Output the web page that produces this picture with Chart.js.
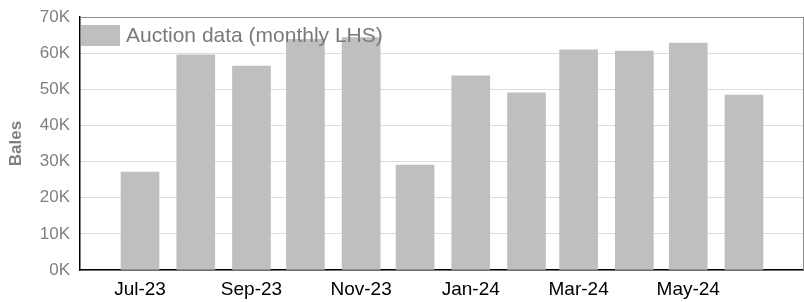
<!DOCTYPE html>
<html><head><meta charset="utf-8">
<script src="https://cdn.jsdelivr.net/npm/chart.js@4.4.1/dist/chart.umd.min.js"></script>
<style>html,body{margin:0;padding:0;background:#fff}#wrap{width:804px;height:302px}</style>
</head><body><div id="wrap"><canvas id="c"></canvas></div>
<script>
const months = ['2023-07','2023-08','2023-09','2023-10','2023-11','2023-12','2024-01','2024-02','2024-03','2024-04','2024-05','2024-06'];
const bales = [27100, 59500, 56400, 63800, 64300, 29000, 53700, 49000, 60900, 60600, 62800, 48400];
const tickMonths = ['2023-07','2023-09','2023-11','2024-01','2024-03','2024-05'];
const tickLabels = ['Jul-23','Sep-23','Nov-23','Jan-24','Mar-24','May-24'];
const seriesLabel = 'Auction data (monthly LHS)';
const yTitle = 'Bales';

function dayOf(m){const [y,mo]=m.split('-').map(Number);return (Date.UTC(y,mo-1,1)-Date.UTC(2023,6,1))/86400000;}
const points = months.map((m,i)=>({x:dayOf(m), y:bales[i]}));

const frame = {
  id:'frame',
  beforeDatasetsDraw(chart){
    const {ctx, chartArea:a} = chart;
    ctx.save(); ctx.strokeStyle='#8c8c8c'; ctx.lineWidth=1;
    ctx.beginPath(); ctx.moveTo(a.left, a.top+0.5); ctx.lineTo(a.right-0.5, a.top+0.5); ctx.lineTo(a.right-0.5, a.bottom); ctx.stroke();
    ctx.restore();
  },
  afterDatasetsDraw(chart){
    const {ctx, chartArea:a} = chart;
    const ds = chart.data.datasets[0];
    ctx.save();
    ctx.fillStyle = ds.backgroundColor;
    ctx.fillRect(a.left+1, a.top+8, 39, 21);
    ctx.fillStyle = '#7a7a7a';
    ctx.font = '21px "Liberation Sans", Arial, sans-serif';
    ctx.textBaseline='middle';
    ctx.fillText(ds.label, a.left+46, a.top+19);
    ctx.restore();
  }
};

new Chart(document.getElementById('c'), {
  type:'bar',
  data:{datasets:[{label:seriesLabel, data:points, backgroundColor:'#bfbfbf', barThickness:38}]},
  options:{
    responsive:true, maintainAspectRatio:false, animation:false,
    layout:{padding:{top:17, right:0, left:0, bottom:0}},
    plugins:{legend:{display:false}, tooltip:{enabled:false}},
    scales:{
      x:{type:'linear', min:-33.4, max:369.4, offset:false,
        grid:{display:false, drawTicks:false},
        border:{color:'#000', width:1.5},
        afterBuildTicks(s){ s.ticks = tickMonths.map(m=>({value:dayOf(m)})); },
        afterFit(s){ s.height = 32; },
        ticks:{autoSkip:false, maxRotation:0, padding:8, color:'#000',
          font:{family:'"Liberation Sans", Arial, sans-serif', size:19},
          callback:(v,i)=>tickLabels[i]}
      },
      y:{min:0, max:70000,
        grid:{color:'#dcdcdc', drawTicks:false},
        border:{color:'#000', width:1.5},
        afterFit(s){ s.width = 80; s.paddingTop = 0; s.paddingBottom = 0; },
        title:{display:true, text:yTitle, color:'#808080', padding:{top:6, bottom:0},
          font:{family:'"Liberation Sans", Arial, sans-serif', size:17, weight:'bold'}},
        ticks:{stepSize:10000, padding:10, color:'#808080',
          font:{family:'"Liberation Sans", Arial, sans-serif', size:17},
          callback:v=>(v/1000)+'K'}
      }
    }
  },
  plugins:[frame]
});
</script></body></html>
